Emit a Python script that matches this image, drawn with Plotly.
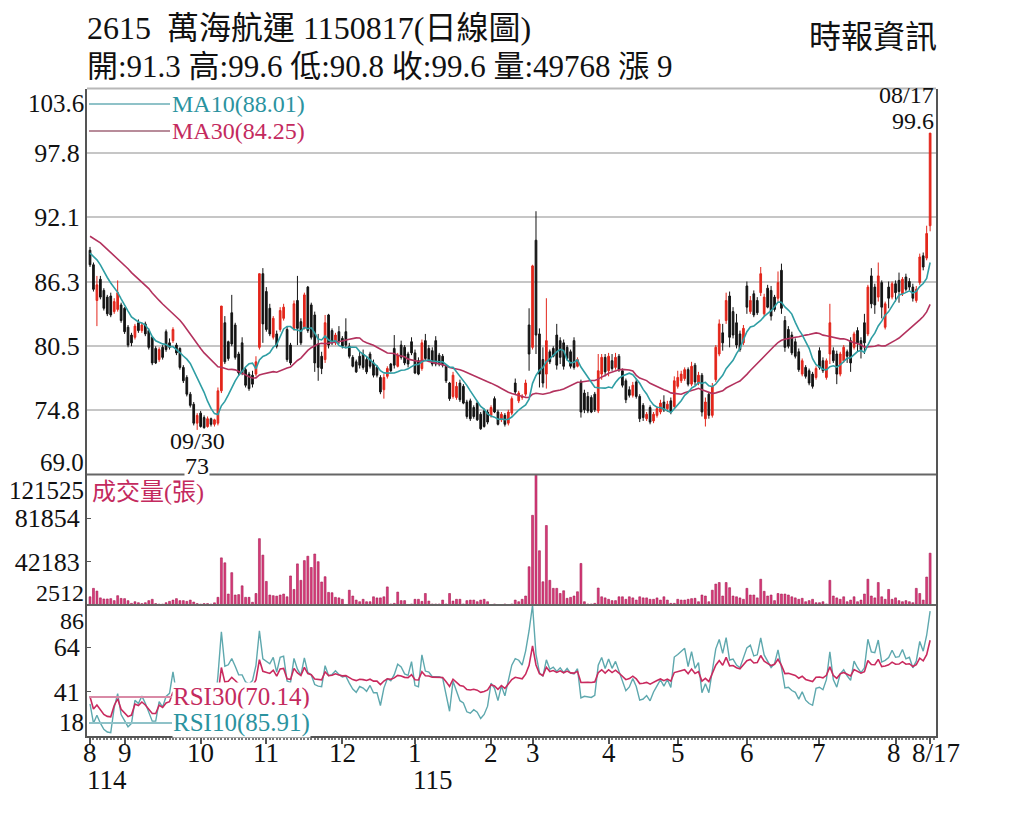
import pandas as pd
import plotly.graph_objs as go

# 2615 萬海航運 日線 (114/08/18 ~ 115/08/17)
opens = [89.1, 87.8, 84.6, 86.5, 85.5, 84.9, 85.0, 83.6, 83.8, 84.2,
         83.9, 82.2, 81.5, 81.3, 82.6, 81.9, 82.5, 81.9, 81.3, 80.3,
         79.3, 80.4, 81.8, 80.8, 81.0, 80.6, 80.3, 78.6, 77.7, 76.2,
         75.3, 73.6, 74.5, 74.1, 73.3, 74.0, 73.5, 73.6, 76.5, 82.6,
         80.9, 83.5, 82.4, 79.8, 80.8, 78.4, 78.0, 77.9, 78.0, 80.4,
         87.0, 85.4, 83.9, 81.3, 81.6, 82.0, 83.0, 82.0, 80.6, 82.1,
         84.6, 82.7, 82.2, 85.8, 84.2, 83.3, 80.7, 79.6, 79.3, 83.3,
         81.9, 80.8, 81.8, 81.2, 81.8, 80.5, 79.5, 79.1, 79.6, 79.8,
         79.3, 79.8, 79.0, 78.6, 77.7, 76.6, 77.8, 78.9, 80.3, 78.7,
         80.6, 80.4, 79.8, 80.9, 79.9, 79.2, 78.5, 81.0, 80.3, 80.1,
         81.0, 79.7, 79.6, 78.7, 77.2, 76.0, 75.9, 77.2, 76.9, 75.5,
         75.6, 75.0, 75.4, 74.4, 74.7, 74.6, 74.3, 75.8, 74.6, 73.9,
         74.3, 73.6, 74.5, 77.2, 75.6, 75.9, 76.2, 82.4, 80.4, 90.0,
         81.6, 79.3, 78.0, 80.0, 80.3, 81.5, 81.0, 80.8, 80.4, 80.0,
         81.0, 78.7, 77.3, 76.3, 76.0, 75.9, 76.2, 74.7, 78.0, 79.5,
         78.3, 79.2, 78.6, 79.6, 78.3, 77.4, 76.6, 76.1, 77.3, 76.0,
         75.2, 74.0, 75.0, 73.8, 74.3, 74.6, 75.5, 74.9, 75.6, 75.1,
         76.9, 77.4, 77.6, 78.4, 77.1, 78.8, 77.2, 77.9, 74.0, 76.2,
         74.3, 77.5, 79.8, 81.7, 82.8, 85.0, 83.6, 82.6, 81.6, 80.8,
         85.9, 83.6, 85.2, 84.6, 85.3, 83.4, 85.7, 85.5, 84.9, 84.8,
         87.3, 82.8, 82.0, 81.5, 80.9, 80.0, 78.0, 78.6, 78.3, 78.0,
         77.7, 80.1, 79.2, 77.7, 79.8, 80.1, 79.8, 78.0, 79.2, 80.0,
         81.0, 80.4, 81.9, 81.0, 82.6, 81.6, 86.8, 85.8, 84.9, 86.2,
         82.2, 85.8, 84.9, 86.1, 86.4, 85.2, 86.7, 86.3, 85.8, 84.6,
         86.2, 88.6, 88.4, 91.3]

highs = [89.4, 88.0, 86.8, 86.8, 85.7, 85.1, 85.3, 84.8, 86.4, 84.4,
         84.0, 82.4, 81.7, 82.5, 82.9, 82.6, 82.7, 82.1, 81.4, 80.5,
         80.4, 80.6, 82.0, 81.2, 82.2, 80.8, 80.4, 78.8, 77.9, 76.4,
         75.5, 74.5, 74.7, 74.3, 74.2, 74.1, 74.0, 76.8, 84.1, 83.2,
         81.0, 85.1, 82.6, 80.0, 81.3, 78.6, 78.2, 78.3, 79.6, 87.0,
         87.5, 85.8, 84.3, 83.2, 81.9, 84.0, 84.3, 82.3, 80.8, 84.6,
         86.8, 83.0, 85.3, 85.9, 84.4, 83.6, 81.6, 80.0, 83.3, 83.4,
         82.1, 81.7, 82.3, 81.4, 83.0, 80.8, 79.7, 79.3, 80.0, 80.2,
         79.6, 80.0, 79.3, 78.8, 77.9, 78.0, 78.7, 79.0, 81.5, 79.9,
         81.0, 80.6, 80.0, 81.3, 80.2, 79.5, 81.1, 81.6, 80.6, 80.4,
         81.4, 79.9, 79.8, 78.9, 77.3, 78.2, 77.3, 77.5, 77.1, 75.7,
         75.8, 75.2, 75.6, 74.6, 74.9, 74.8, 75.2, 76.0, 74.8, 74.6,
         74.5, 74.8, 76.0, 77.6, 76.5, 76.2, 77.5, 83.9, 87.8, 92.6,
         82.1, 80.4, 84.8, 80.2, 80.5, 82.5, 81.3, 81.1, 80.6, 80.2,
         81.3, 79.5, 77.5, 76.6, 76.4, 76.1, 76.4, 79.8, 79.8, 79.8,
         79.9, 79.8, 79.9, 79.8, 78.5, 77.6, 76.9, 77.3, 77.6, 76.2,
         75.4, 74.6, 75.2, 74.6, 75.1, 75.7, 76.1, 75.6, 75.9, 77.8,
         78.3, 78.3, 78.6, 78.6, 79.1, 79.0, 78.2, 78.1, 75.9, 76.4,
         77.2, 80.6, 82.9, 82.5, 85.3, 85.4, 84.0, 83.4, 81.9, 82.4,
         86.3, 85.0, 85.5, 84.9, 87.6, 85.2, 86.0, 85.9, 85.1, 87.2,
         87.9, 83.2, 82.3, 81.8, 81.2, 80.3, 79.4, 78.8, 78.5, 78.2,
         78.7, 80.4, 79.5, 79.4, 84.3, 80.4, 80.1, 80.0, 80.6, 80.2,
         81.3, 81.8, 82.2, 81.3, 83.4, 86.0, 87.5, 86.1, 88.0, 86.4,
         84.5, 86.3, 86.3, 86.4, 87.1, 86.7, 87.0, 86.6, 86.1, 85.9,
         88.8, 88.9, 91.3, 99.6]

lows = [87.6, 85.4, 82.3, 84.7, 83.7, 83.2, 83.1, 83.4, 83.6, 82.6,
        81.6, 80.4, 80.5, 81.1, 81.7, 81.7, 81.4, 80.2, 78.8, 78.9,
        79.1, 79.3, 80.0, 80.2, 80.8, 79.7, 78.4, 77.2, 76.0, 75.0,
        73.4, 73.0, 73.2, 73.1, 73.2, 73.3, 73.3, 73.4, 76.3, 78.9,
        79.2, 80.5, 79.3, 77.9, 77.9, 76.8, 76.5, 76.8, 77.8, 80.2,
        80.8, 81.8, 81.4, 81.1, 80.3, 81.8, 82.8, 79.1, 78.8, 81.9,
        80.6, 80.6, 82.0, 81.7, 81.1, 78.2, 77.4, 78.0, 79.0, 80.3,
        80.6, 80.6, 80.7, 80.3, 80.3, 79.4, 78.6, 78.1, 78.5, 78.4,
        78.0, 78.5, 77.7, 77.7, 76.2, 75.8, 77.6, 78.2, 78.5, 78.6,
        79.3, 78.8, 78.6, 79.7, 78.0, 77.9, 78.3, 79.2, 79.1, 78.7,
        78.7, 78.7, 78.6, 77.2, 75.6, 75.8, 75.7, 75.5, 75.3, 74.0,
        73.8, 74.0, 73.8, 73.0, 73.2, 73.5, 74.1, 74.5, 73.4, 73.7,
        73.3, 73.4, 74.3, 76.2, 75.4, 75.7, 76.0, 78.3, 80.2, 79.8,
        76.8, 76.8, 76.7, 78.9, 79.5, 78.4, 78.9, 78.4, 79.2, 78.5,
        78.4, 78.6, 74.1, 74.5, 74.5, 74.5, 74.6, 74.5, 77.5, 77.8,
        77.8, 78.3, 78.4, 78.2, 76.8, 75.4, 75.9, 75.9, 75.8, 73.7,
        73.8, 73.8, 73.5, 73.6, 74.1, 74.4, 74.6, 74.6, 74.4, 74.9,
        76.7, 77.2, 77.4, 76.9, 76.9, 77.0, 77.0, 74.2, 73.3, 74.0,
        74.1, 77.3, 79.6, 80.1, 82.5, 80.4, 81.2, 80.3, 80.0, 80.6,
        83.4, 83.4, 83.1, 83.3, 85.0, 83.2, 83.9, 82.8, 83.6, 84.5,
        83.4, 80.0, 80.3, 79.7, 79.4, 78.2, 77.8, 77.6, 77.0, 76.7,
        77.5, 78.4, 78.1, 77.5, 78.9, 79.0, 77.1, 77.8, 79.0, 79.0,
        78.2, 80.2, 80.0, 79.4, 79.8, 81.4, 83.9, 83.4, 84.5, 83.0,
        82.0, 83.9, 84.7, 84.5, 84.4, 85.0, 85.4, 85.5, 84.5, 84.4,
        86.0, 87.3, 88.2, 90.8]

closes = [87.8, 85.6, 86.0, 84.9, 83.9, 83.4, 83.3, 84.5, 85.3, 82.8,
          81.8, 80.6, 80.8, 82.3, 81.9, 82.4, 81.6, 80.4, 79.0, 79.0,
          80.2, 79.5, 80.2, 80.4, 82.0, 79.9, 78.6, 77.4, 76.2, 75.2,
          73.6, 74.3, 73.3, 73.2, 74.0, 73.5, 73.9, 76.5, 84.1, 79.1,
          79.4, 80.7, 79.5, 78.1, 78.1, 77.0, 76.7, 77.1, 79.1, 87.0,
          82.5, 82.0, 81.6, 83.0, 80.5, 83.7, 84.0, 79.3, 79.0, 84.3,
          82.1, 80.8, 85.1, 81.9, 81.3, 79.0, 78.6, 78.5, 82.6, 80.6,
          80.8, 81.5, 80.9, 80.5, 80.6, 79.6, 78.7, 78.2, 78.8, 78.6,
          78.2, 78.7, 77.9, 77.9, 76.4, 77.7, 78.5, 78.3, 78.8, 79.7,
          79.5, 79.0, 78.9, 79.9, 78.1, 78.0, 80.8, 79.4, 79.3, 78.9,
          78.9, 78.9, 78.8, 77.4, 75.8, 77.9, 76.9, 75.7, 75.4, 74.2,
          74.0, 74.2, 73.9, 73.1, 73.3, 73.7, 75.0, 74.6, 73.5, 74.4,
          73.5, 74.6, 75.8, 76.4, 76.3, 76.0, 77.2, 79.8, 87.7, 81.5,
          78.0, 77.2, 81.0, 79.1, 79.6, 78.8, 79.5, 78.7, 79.4, 78.7,
          78.6, 79.3, 74.6, 74.8, 74.7, 74.6, 74.8, 78.3, 79.5, 78.2,
          79.6, 78.5, 79.5, 78.4, 77.0, 75.7, 76.1, 77.0, 76.0, 74.0,
          74.1, 74.4, 73.7, 74.4, 74.9, 75.4, 74.8, 75.3, 74.6, 77.4,
          77.7, 78.0, 78.4, 77.1, 78.7, 77.3, 77.9, 74.6, 75.5, 74.3,
          76.9, 80.4, 82.5, 80.8, 84.6, 81.3, 81.5, 80.6, 80.2, 82.1,
          84.0, 84.6, 83.3, 83.5, 87.0, 84.9, 84.0, 83.2, 83.8, 86.2,
          83.9, 80.4, 80.5, 79.9, 79.6, 78.4, 79.2, 77.8, 77.2, 76.9,
          78.5, 78.6, 78.3, 79.2, 82.6, 79.2, 78.0, 79.8, 80.4, 79.6,
          79.0, 81.6, 80.8, 80.2, 80.8, 85.8, 84.3, 84.2, 86.8, 84.0,
          84.3, 84.8, 86.1, 85.3, 85.4, 86.5, 85.6, 85.8, 84.8, 85.6,
          88.5, 87.6, 90.6, 99.6]

volumes = [10000, 17700, 15200, 9000, 8000, 8000, 8300, 6500, 11000, 8500,
           8300, 6500, 4000, 5500, 4600, 3800, 4600, 6500, 7700, 3800,
           3300, 3300, 4600, 5800, 7000, 8300, 6500, 6500, 5800, 7000,
           5200, 3800, 3300, 3800, 3800, 3300, 4500, 9500, 45500, 41000,
           12500, 32000, 11600, 12000, 20000, 9500, 9500, 5000, 13000, 63000,
           48000, 24000, 11600, 11000, 10600, 11600, 12500, 10000, 29000, 16700,
           40000, 25000, 43000, 47000, 36700, 49000, 42000, 23500, 28300, 14000,
           13700, 9500, 9000, 7700, 3000, 16000, 10700, 7000, 5500, 7700,
           5500, 5500, 10000, 9000, 9000, 10000, 19000, 3400, 4000, 14300,
           6500, 6500, 3000, 3400, 7700, 7700, 5800, 13000, 6100, 3400,
           3400, 3400, 7000, 3400, 13000, 6100, 7700, 7700, 3400, 6500,
           7000, 7000, 5500, 7000, 7700, 5500, 2600, 3400, 2512, 2700,
           3400, 2800, 3400, 7000, 5500, 7700, 10700, 37400, 84300, 121525,
           52000, 23700, 75000, 25000, 17700, 17700, 13000, 15500, 8600, 9500,
           10700, 14600, 40400, 5500, 3400, 3400, 4000, 18000, 10000, 9000,
           7700, 6500, 6500, 10000, 10000, 7700, 10000, 9000, 7000, 10000,
           9000, 9000, 7700, 7700, 9000, 7000, 10000, 7000, 4000, 4000,
           7700, 7000, 7000, 7700, 8300, 8600, 5500, 11600, 10700, 5500,
           16000, 21600, 23000, 10700, 23000, 18300, 10700, 10000, 9000, 7700,
           17700, 11600, 11600, 9000, 26000, 15000, 10700, 11600, 6500, 13000,
           12500, 12500, 11600, 10000, 9000, 7700, 8600, 5500, 6500, 7700,
           4600, 4600, 5500, 3400, 25000, 10700, 9000, 7700, 10000, 5500,
           7000, 10000, 5500, 7000, 12500, 26000, 10700, 9000, 23000, 10000,
           7700, 16700, 7700, 9000, 6500, 5500, 6500, 5500, 4600, 17700,
           13000, 7000, 28000, 49768]

# closes before the window, estimated from where the MA lines start
closes_before = [91.0, 91.5, 92.0, 92.4, 91.8, 92.6, 93.0, 92.2, 91.6, 91.0,
                 90.4, 91.2, 90.8, 90.0, 89.6, 90.2, 91.0, 90.6, 90.0, 89.4,
                 89.0, 88.6, 89.4, 89.8, 88.8, 88.2, 88.9, 89.3, 88.6]

month_idx = [0, 10, 32, 51, 73, 94, 116, 128, 150, 170, 190, 211, 233, 243]
month_txt = ['8', '9', '10', '11', '12', '1', '2', '3', '4', '5', '6', '7', '8', '8/17']

price_ticks = [74.8, 80.5, 86.3, 92.1, 97.8]
vol_ticks = [81854, 42183]
rsi_ticks = [64, 41]

assert len(opens) == len(highs) == len(lows) == len(closes) == len(volumes) == 244

W, H = 1024, 819
def px(x):
    return x / W
def py(y):
    return 1 - y / H

SERIF = "Liberation Serif, 'Noto Sans CJK TC', serif"
TEAL = '#2b93a0'
CRIMSON = '#c42a5e'

# indicadores
c_all = pd.Series(closes_before + closes, dtype=float)
n0 = len(closes_before)
ma10 = c_all.rolling(10, min_periods=1).mean().iloc[n0:].tolist()
ma30 = c_all.rolling(30, min_periods=1).mean().iloc[n0:].tolist()

def rsi(s, n):
    d = s.diff()
    up = d.clip(lower=0).ewm(alpha=1 / n, adjust=True).mean()
    dn = (-d.clip(upper=0)).ewm(alpha=1 / n, adjust=True).mean()
    return (100 * up / (up + dn)).iloc[n0:].tolist()

rsi10 = rsi(c_all, 10)
rsi30 = rsi(c_all, 30)

x = list(range(len(closes)))

velas = go.Candlestick(x=x, open=opens, high=highs, low=lows, close=closes,
                       increasing=dict(line=dict(color='#e3261b', width=1), fillcolor='#e3261b'),
                       decreasing=dict(line=dict(color='#141414', width=1), fillcolor='#141414'),
                       whiskerwidth=0, hoverinfo='skip', xaxis='x', yaxis='y')
l_ma10 = go.Scatter(x=x, y=ma10, mode='lines', line=dict(color='#2f9ea4', width=1.6),
                    hoverinfo='skip', xaxis='x', yaxis='y')
l_ma30 = go.Scatter(x=x, y=ma30, mode='lines', line=dict(color='#b3325e', width=1.6),
                    hoverinfo='skip', xaxis='x', yaxis='y')
vol = go.Bar(x=x, y=volumes, width=0.55,
             marker=dict(color='#dc3c7c', line=dict(color='#a3184f', width=0.6)),
             hoverinfo='skip', xaxis='x', yaxis='y2')
l_rsi10 = go.Scatter(x=x, y=rsi10, mode='lines', line=dict(color='#5ea8ae', width=1.4),
                     hoverinfo='skip', xaxis='x', yaxis='y3')
l_rsi30 = go.Scatter(x=x, y=rsi30, mode='lines', line=dict(color='#c92a5e', width=1.6),
                     hoverinfo='skip', xaxis='x', yaxis='y3')

price_dom = [py(474.5), py(88.5)]
vol_dom = [py(605), py(474.5)]
rsi_dom = [py(736), py(605)]

axis_common = dict(showline=True, linecolor='#555555', linewidth=2, mirror=True,
                   zeroline=False, automargin=False,
                   tickfont=dict(family=SERIF, size=26, color='#111111'))

def label(text, x, y, xanchor='left', size=24, color='#111111', bg=None):
    a = dict(text=text, x=px(x), y=py(y), xref='paper', yref='paper', xanchor=xanchor,
             yanchor='middle', showarrow=False, font=dict(family=SERIF, size=size, color=color),
             borderpad=0)
    if bg:
        a['bgcolor'] = bg
    return a

annotations = [
    label('2615\u00a0\u00a0萬海航運 1150817(日線圖)', 86, 28, size=32),
    label('開:91.3 高:99.6 低:90.8 收:99.6 量:49768 漲 9', 86, 66, size=31),
    label('時報資訊', 938, 37, xanchor='right', size=32),
    label('MA10(88.01)', 171, 104, color=TEAL, size=24),
    label('MA30(84.25)', 171, 131, color=CRIMSON, size=24),
    label('08/17', 935, 95, xanchor='right', size=24),
    label('99.6', 935, 121, xanchor='right', size=24),
    label('09/30', 197, 441, xanchor='center', size=24),
    label('73', 197, 466, xanchor='center', size=24, bg='white'),
    label('成交量(張)', 91, 492, color=CRIMSON, size=24),
    label('RSI30(70.14)', 172, 697, color=CRIMSON, size=25, bg='white'),
    label('RSI10(85.91)', 172, 723, color=TEAL, size=25, bg='white'),
    label('103.6', 85, 103, xanchor='right', size=25),
    label('69.0', 85, 462, xanchor='right', size=25),
    label('121525', 85, 490, xanchor='right', size=25),
    label('2512', 85, 593, xanchor='right', size=24),
    label('86', 85, 621, xanchor='right', size=24),
    label('18', 85, 722, xanchor='right', size=25),
    label('114', 86, 780, size=27),
    label('115', 412, 780, size=27),
]

# etiquetas de meses bajo el eje (la ultima, 8/17, algo corrida a la derecha)
for i, t in zip(month_idx, month_txt):
    shift = 6 if t == '8/17' else (-2 if i == 233 else 0)
    annotations.append(dict(text=t, x=i, y=py(753), xref='x', yref='paper',
                            xanchor='center', yanchor='middle', showarrow=False, xshift=shift,
                            font=dict(family=SERIF, size=27, color='#111111')))

def hline(y, color, width, x0=87, x1=936):
    return dict(type='line', xref='paper', yref='paper', x0=px(x0), x1=px(x1),
                y0=py(y), y1=py(y), line=dict(color=color, width=width), layer='above')

shapes = [
    hline(88.5, '#b8b8b8', 2),
    hline(474.5, '#666666', 2),
    hline(605, '#666666', 2),
    hline(104, '#8fc2c8', 2, 89, 170),
    hline(131, '#b88c9a', 2, 89, 170),
    hline(697, '#d98aa6', 2, 89, 172),
    hline(723, '#8fc2c8', 2, 89, 172),
]

layout = dict(
    width=W, height=H, autosize=False,
    margin=dict(l=0, r=0, t=0, b=0, pad=0),
    paper_bgcolor='white', plot_bgcolor='white',
    showlegend=False, hovermode=False,
    xaxis=dict(domain=[px(87), px(936)], range=[-0.87, 244.7], anchor='y3',
               tickmode='array', tickvals=month_idx, showticklabels=False,
               ticks='outside', ticklen=6, tickcolor='#555555', tickwidth=1.5,
               showline=True, linecolor='#555555', linewidth=2, showgrid=False, zeroline=False,
               automargin=False, rangeslider=dict(visible=False),
               minor=dict(tickmode='linear', tick0=0, dtick=1, ticks='outside',
                          ticklen=2, tickcolor='#777777', showgrid=False)),
    yaxis=dict(domain=price_dom, range=[69.0, 103.6], anchor='x',
               tickmode='array', tickvals=price_ticks, ticktext=[f'{v:.1f}' for v in price_ticks],
               showgrid=True, gridcolor='#c6c6c6', gridwidth=1.5, ticks='', **axis_common),
    yaxis2=dict(domain=vol_dom, range=[2512, 121525], anchor='x',
                tickmode='array', tickvals=vol_ticks, ticktext=[str(v) for v in vol_ticks],
                showgrid=False, ticks='inside', ticklen=4, tickcolor='#555555', **axis_common),
    yaxis3=dict(domain=rsi_dom, range=[18, 86], anchor='x',
                tickmode='array', tickvals=rsi_ticks, ticktext=[str(v) for v in rsi_ticks],
                showgrid=False, ticks='inside', ticklen=4, tickcolor='#555555', **axis_common),
    annotations=annotations,
    shapes=shapes,
)

fig = go.Figure(data=[velas, l_ma30, l_ma10, vol, l_rsi10, l_rsi30], layout=layout)
fig.write_html("out.html", config={'displayModeBar': False},
               post_script="document.body.style.margin='0';")
